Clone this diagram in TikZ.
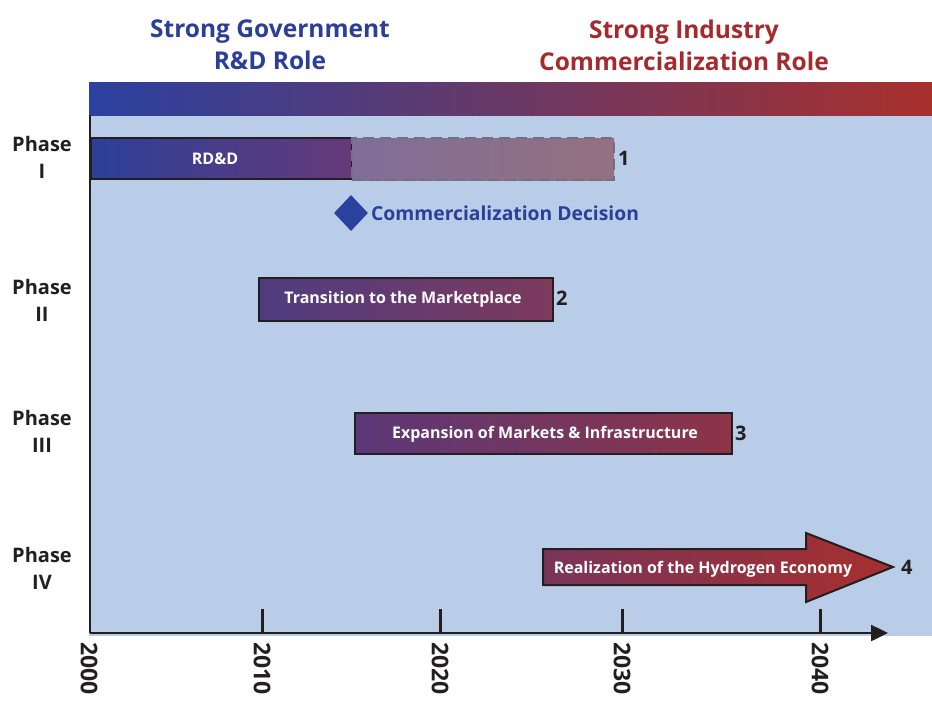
\documentclass[tikz,border=0pt]{standalone}
\usepackage{fontspec}
\setmainfont{Open Sans}
\usetikzlibrary{shapes.geometric,arrows.meta}

\definecolor{govblue}{HTML}{2A41A0}
\definecolor{indred}{HTML}{A8302C}
\definecolor{headblue}{HTML}{2B3F98}
\definecolor{headred}{HTML}{A52A2E}
\definecolor{sky}{HTML}{B9CDE8}
\definecolor{ink}{HTML}{231F20}
\definecolor{dashgray}{HTML}{6B7380}
% end colours of the phase bars
\definecolor{rddL}{HTML}{2C3F99}
\definecolor{rddR}{HTML}{663A78}
\definecolor{extL}{HTML}{806E98}
\definecolor{extR}{HTML}{947080}
\definecolor{trnL}{HTML}{4F3C80}
\definecolor{trnR}{HTML}{7D3A5C}
\definecolor{expL}{HTML}{5B3878}
\definecolor{expR}{HTML}{8D3447}
\definecolor{reaL}{HTML}{7A345A}
\definecolor{reaR}{HTML}{A62F2E}

\tikzset{
  header/.style={font=\bfseries\fontsize{24.5}{32}\selectfont, align=center},
  phaselabel/.style={font=\bfseries\fontsize{20}{27}\selectfont, text=ink, align=center},
  barbox/.style={draw=ink, line width=2pt, inner sep=0pt, anchor=north west},
  bartext/.style={text=white, font=\bfseries\fontsize{16}{18}\selectfont},
  barnum/.style={text=ink, font=\bfseries\fontsize{20}{22}\selectfont, anchor=west, inner sep=0pt},
  year/.style={text=ink, font=\bfseries\fontsize{23}{24}\selectfont, rotate=-90, anchor=west, inner sep=0pt},
  axisline/.style={ink, line width=2.5pt},
  yeartick/.style={ink, line width=3pt},
}

\begin{document}
\begin{tikzpicture}[x=1pt,y=-1pt]
  \useasboundingbox (0,0) rectangle (932,702);
  \fill[white] (0,0) rectangle (932,702);

  % headings
  \node[header, text=headblue] (gov) at (270,45) {Strong Government\\R\&D Role};
  \node[header, text=headred] (ind) at (684,45) {Strong Industry\\Commercialization Role};

  % role gradient band and plot area
  \shade[left color=govblue, right color=indred] (89,82) rectangle (932,115);
  \fill[sky] (89,116) rectangle (932,636);

  % phase labels
  \node[phaselabel] (p1) at (42,157) {Phase\\I};
  \node[phaselabel] (p2) at (42,300) {Phase\\II};
  \node[phaselabel] (p3) at (42,431) {Phase\\III};
  \node[phaselabel] (p4) at (42,568) {Phase\\IV};

  % phase I
  \node[barbox, minimum width=261pt, minimum height=41pt,
        left color=rddL, right color=rddR] (rdd) at (90,137) {};
  \node[bartext] (rddtext) at (215,159) {RD\&D};
  \node[draw=dashgray, dash pattern=on 11pt off 6pt, line width=2pt, inner sep=0pt, anchor=north west,
        minimum width=262pt, minimum height=42pt,
        left color=extL, right color=extR] (rddext) at (351,137) {};
  \node[barnum] (n1) at (618,158) {1};

  \node[diamond, fill=govblue, inner sep=0pt, minimum width=34pt, minimum height=36pt] (decision) at (351,213) {};
  \node[anchor=west, inner sep=0pt, text=headblue, font=\bfseries\fontsize{19.3}{20}\selectfont] (decisiontext) at (371,213) {Commercialization Decision};

  % phase II
  \node[barbox, minimum width=294pt, minimum height=43pt,
        left color=trnL, right color=trnR] (trans) at (258,277) {};
  \node[bartext] (transtext) at (403,299) {Transition to the Marketplace};
  \node[barnum] (n2) at (556,298) {2};

  % phase III
  \node[barbox, minimum width=377pt, minimum height=41pt,
        left color=expL, right color=expR] (expa) at (354,412) {};
  \node[bartext] (expatext) at (545,434) {Expansion of Markets \& Infrastructure};
  \node[barnum] (n3) at (735,433) {3};

  % phase IV arrow
  \coordinate (a1) at (543,549);
  \coordinate (a2) at (806,549);
  \coordinate (a3) at (806,533);
  \coordinate (tip) at (893,567);
  \coordinate (a5) at (806,602);
  \coordinate (a6) at (806,585);
  \coordinate (a7) at (543,585);
  \shade[left color=reaL, right color=reaR]
    (a1) -- (a2) -- (a3) -- (tip) -- (a5) -- (a6) -- (a7) -- cycle;
  \draw[ink, line width=2pt, line join=miter]
    (a1) -- (a2) -- (a3) -- (tip) -- (a5) -- (a6) -- (a7) -- cycle;
  \node[bartext] (realtext) at (703,569) {Realization of the Hydrogen Economy};
  \node[barnum] (n4) at (901,567) {4};

  % time axis
  \coordinate (top) at (90,115);
  \coordinate (origin) at (90,633);
  \coordinate (xend) at (888,633);
  \draw[axisline] (top) -- (origin);
  \draw[axisline, -{Triangle[length=17pt,width=16pt]}] (origin) -- (xend);

  \foreach \x/\yr in {262/2010, 440/2020, 622/2030, 820/2040}{
    \coordinate (t\yr) at (\x,609);
    \coordinate (b\yr) at (\x,633);
    \draw[yeartick] (t\yr) -- (b\yr);
  }
  \foreach \x/\yr in {89/2000, 262/2010, 440/2020, 622/2030, 820/2040}{
    \node[year] (y\yr) at (\x,642) {\yr};
  }
\end{tikzpicture}
\end{document}
